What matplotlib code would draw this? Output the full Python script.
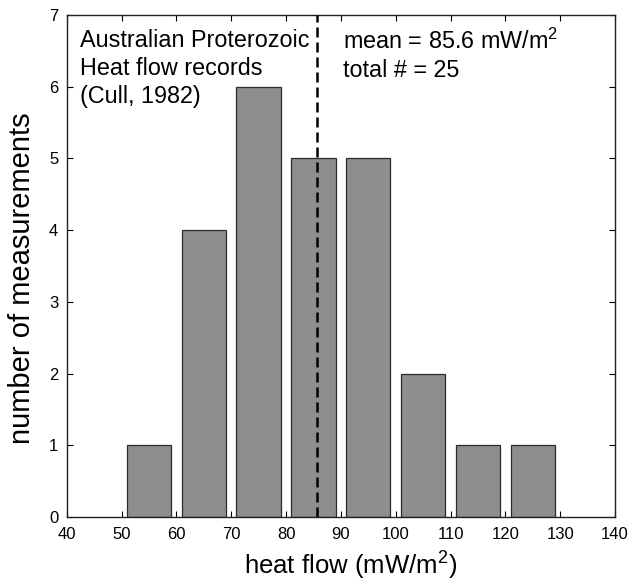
import numpy as np
import matplotlib
matplotlib.use("Agg")
import matplotlib.pyplot as plt

plt.rcParams['font.family'] = ['Liberation Sans', 'DejaVu Sans']
plt.rcParams['mathtext.fontset'] = 'custom'
plt.rcParams['mathtext.rm'] = 'Liberation Sans'
plt.rcParams['mathtext.it'] = 'Liberation Sans'

# bin centres (mW/m^2) and counts
bin_centers = [55, 65, 75, 85, 95, 105, 115, 125]
counts = [1, 4, 6, 5, 5, 2, 1, 1]
mean_flow = 85.6
n_total = 25

fig = plt.figure(figsize=(6.37, 5.84), dpi=100)
ax = fig.add_axes([0.1047, 0.1147, 0.8608, 0.8596])

ax.bar(bin_centers, counts, width=8.1, color='#8e8e8e', edgecolor='#2b2b2b', linewidth=0.9, zorder=2)
ax.axvline(mean_flow, color='black', linestyle=(0, (4, 2)), linewidth=1.8, zorder=3)

ax.set_xlim(40, 140)
ax.set_ylim(0, 7)
ax.set_xticks(np.arange(40, 141, 10))
ax.set_yticks(np.arange(0, 8, 1))
ax.tick_params(axis='x', pad=7)
ax.tick_params(axis='y', pad=6)
ax.tick_params(direction='in', top=True, right=True, length=4, width=0.8,
               labelsize=12, colors='black')
for s in ax.spines.values():
    s.set_linewidth(1.0)
    s.set_color('#222222')

ax.set_xlabel('heat flow (mW/m$^{2}$)', fontsize=18.5)
ax.xaxis.set_label_coords(0.518, -0.066)
ax.xaxis.label.set_va('top')
ax.set_ylabel('number of measurements', fontsize=21)
ax.yaxis.set_label_coords(-0.056, 0.476)

ax.text(0.024, 0.973, 'Australian Proterozoic\nHeat flow records\n(Cull, 1982)',
        transform=ax.transAxes, va='top', ha='left', fontsize=16.8, linespacing=1.28)
ax.text(0.504, 0.973, 'mean = %.1f mW/m$^{2}$\ntotal # = %d' % (mean_flow, n_total),
        transform=ax.transAxes, va='top', ha='left', fontsize=16.8, linespacing=1.28)

fig.savefig('out.png', dpi=100)
